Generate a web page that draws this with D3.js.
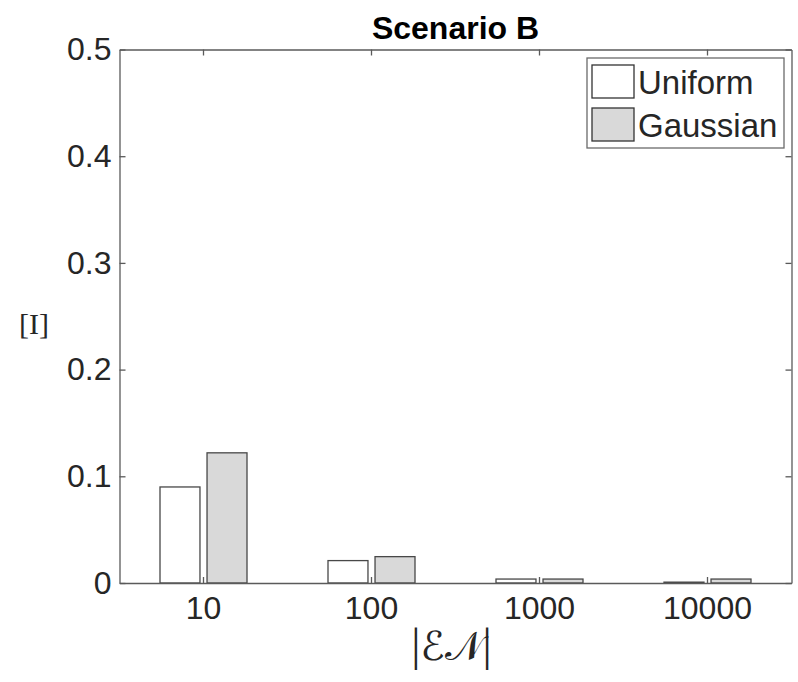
<!DOCTYPE html>
<head>
    <meta charset="utf-8">
    <script src="https://d3js.org/d3.v7.min.js"></script>
    <style>
        body { margin: 0; background: #fff; }
        svg { display: block; }
    </style>
</head>
<body>
    <svg></svg>
    <script>
        // values
        var categories = ["10", "100", "1000", "10000"];
        var seriesNames = ["Uniform", "Gaussian"];
        var uniformVals = [0.090, 0.021, 0.0037, 0.0008];
        var gaussianVals = [0.122, 0.0247, 0.0037, 0.0037];
        var yTicks = [0, 0.1, 0.2, 0.3, 0.4, 0.5];
        var seriesFill = ["#ffffff", "#d9d9d9"];

        var W = 798, H = 682;
        var margin = { top: 49.5, right: 6.5, bottom: 99, left: 119.5 },
            width = W - margin.left - margin.right,
            height = H - margin.top - margin.bottom;

        var rows = categories.map(function (c, i) {
            return { cat: c, values: [uniformVals[i], gaussianVals[i]] };
        });

        var x = d3.scaleBand().domain(categories).range([0, width]).padding(0);
        var x1 = d3.scaleBand().domain(seriesNames).range([-43.5, 43.5]).paddingInner(0.15);
        var y = d3.scaleLinear().domain([0, 0.5]).range([height, 0]);

        var svg = d3.select("svg").attr("width", W).attr("height", H);
        var g = svg.append("g")
            .attr("transform", "translate(" + margin.left + "," + margin.top + ")");

        var fontSans = "'Liberation Sans', Arial, sans-serif";

        // bars
        var groups = g.selectAll("g.grp")
            .data(rows)
            .enter().append("g")
            .attr("class", "grp")
            .attr("transform", function (d) { return "translate(" + (x(d.cat) + x.bandwidth() / 2) + ",0)"; });

        groups.selectAll("rect")
            .data(function (d) { return d.values.map(function (v, i) { return { name: seriesNames[i], value: v, i: i }; }); })
            .enter().append("rect")
            .attr("x", function (d) { return x1(d.name); })
            .attr("width", x1.bandwidth())
            .attr("y", function (d) { return y(d.value); })
            .attr("height", function (d) { return height - y(d.value); })
            .attr("fill", function (d) { return seriesFill[d.i]; })
            .attr("stroke", "#484848")
            .attr("stroke-width", 1.3);

        // axes, ticks pointing inward like matlab
        var yfmt = function (d) { return d === 0 ? "0" : d3.format(".1f")(d); };

        var axes = [
            g.append("g").call(d3.axisLeft(y).tickValues(yTicks).tickFormat(yfmt)
                .tickSizeInner(-6).tickSizeOuter(0).tickPadding(8)),
            g.append("g").attr("transform", "translate(" + width + ",0)")
                .call(d3.axisRight(y).tickValues(yTicks).tickFormat("").tickSizeInner(-6).tickSizeOuter(0)),
            g.append("g").attr("transform", "translate(0," + height + ")")
                .call(d3.axisBottom(x).tickSizeInner(-6).tickSizeOuter(0).tickPadding(13)),
            g.append("g")
                .call(d3.axisTop(x).tickFormat("").tickSizeInner(-6).tickSizeOuter(0))
        ];
        axes.forEach(function (a) {
            a.selectAll("path, line").attr("stroke", "#5a5a5a").attr("stroke-width", 1.3);
            a.selectAll("text").attr("fill", "#262626")
                .style("font-family", fontSans).style("font-size", "32px");
        });

        // title
        svg.append("text")
            .attr("x", margin.left + width / 2)
            .attr("y", 39)
            .attr("text-anchor", "middle")
            .style("font-family", fontSans)
            .style("font-size", "32px")
            .style("font-weight", "bold")
            .attr("fill", "#000")
            .text("Scenario B");

        // y label
        svg.append("text")
            .attr("x", 34)
            .attr("y", 334)
            .attr("text-anchor", "middle")
            .style("font-family", "'Liberation Serif', 'DejaVu Serif', serif")
            .style("font-size", "30px")
            .attr("fill", "#262626")
            .text("[I]");

        // x label, thin bars around script letters
        var xl = svg.append("text")
            .attr("x", margin.left + width / 2 - 4)
            .attr("y", 660)
            .attr("text-anchor", "middle")
            .style("font-size", "40px")
            .attr("fill", "#262626");
        xl.append("tspan").style("font-family", "'Liberation Serif', serif").style("font-size", "46px").text("|");
        xl.append("tspan").style("font-family", "'DejaVu Serif', 'DejaVu Sans', serif").text("\u2130\uD835\uDCA9");
        xl.append("tspan").style("font-family", "'Liberation Serif', serif").style("font-size", "46px").text("|");

        // legend
        var leg = svg.append("g").attr("transform", "translate(587,58)");
        leg.append("rect")
            .attr("width", 197).attr("height", 90)
            .attr("fill", "#fff").attr("stroke", "#6a6a6a").attr("stroke-width", 1.3);
        seriesNames.forEach(function (name, i) {
            leg.append("rect")
                .attr("x", 5).attr("y", 7 + i * 43)
                .attr("width", 42).attr("height", 33)
                .attr("fill", seriesFill[i]).attr("stroke", "#333").attr("stroke-width", 1.3);
            leg.append("text")
                .attr("x", 51).attr("y", 36 + i * 43)
                .style("font-family", fontSans).style("font-size", "33px")
                .attr("fill", "#262626")
                .text(name);
        });
    </script>
</body>
